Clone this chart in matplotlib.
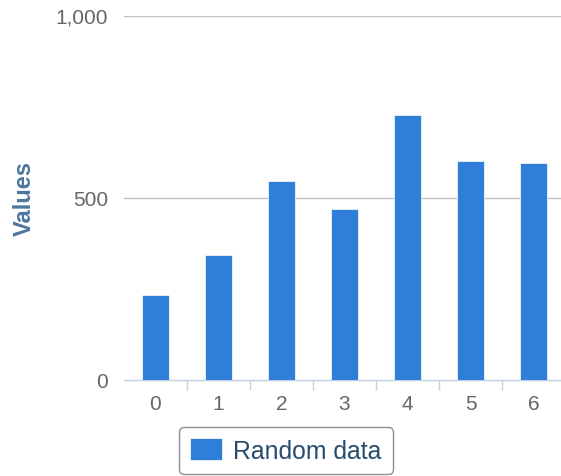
import numpy as np
import matplotlib

matplotlib.use("Agg")
import matplotlib.pyplot as plt

# data
categories = [0, 1, 2, 3, 4, 5, 6]
values = [233, 342, 545, 468, 726, 600, 594]
series_name = "Random data"
y_ticks = [0, 500, 1000]
y_tick_labels = ["0", "500", "1,000"]

bar_color = "#2f7ed8"
plt.rcParams["font.family"] = ["Liberation Sans", "DejaVu Sans"]

W, H = 561, 477
fig = plt.figure(figsize=(W / 100, H / 100), dpi=100)
ax = fig.add_axes([124 / W, 96 / H, 1 - 124 / W, (381 - 16.5) / H])

x = np.array(categories)
ax.bar(x, values, width=0.44, color=bar_color, edgecolor="#ffffff",
       linewidth=0.5, label=series_name, zorder=3)

ax.set_xlim(-0.5, (W - 124) / 63.0 - 0.5)
ax.set_ylim(0, 1000)

# y axis
ax.set_yticks(y_ticks)
ax.set_yticklabels(y_tick_labels)
ax.tick_params(axis="y", length=0, pad=11.5, labelsize=15, labelcolor="#666666")
for v in y_ticks[1:]:
    ax.axhline(v, color="#c0c0c0", linewidth=1, zorder=1)
# axis title placed in figure pixels so it stays inside the picture
fig.text(24 / W, 1 - 198.5 / H, "Values", rotation=90, ha="center",
         va="center", fontsize=17, fontweight="bold", color="#4d759e")

# x axis
ax.set_xticks(x)
ax.set_xticklabels([str(c) for c in categories])
ax.tick_params(axis="x", length=0, pad=10, labelsize=15, labelcolor="#666666")
ax.set_xticks(np.arange(0.5, 6.0, 1.0), minor=True)
ax.tick_params(axis="x", which="minor", length=7.2, width=1, color="#c0d0e0")

for s in ["top", "right", "left"]:
    ax.spines[s].set_visible(False)
ax.spines["bottom"].set_color("#c0d0e0")
ax.spines["bottom"].set_linewidth(1)

leg = fig.legend(loc="center", bbox_to_anchor=(286 / W, 25.5 / H),
                 fontsize=17.8, frameon=True, fancybox=True,
                 handlelength=1.3, handleheight=0.95, handletextpad=0.45,
                 borderpad=0.45, labelcolor="#274b6d")
leg.get_frame().set_edgecolor("#909090")
leg.get_frame().set_linewidth(1)
leg.get_frame().set_alpha(1)

fig.savefig("out.png", dpi=100)
